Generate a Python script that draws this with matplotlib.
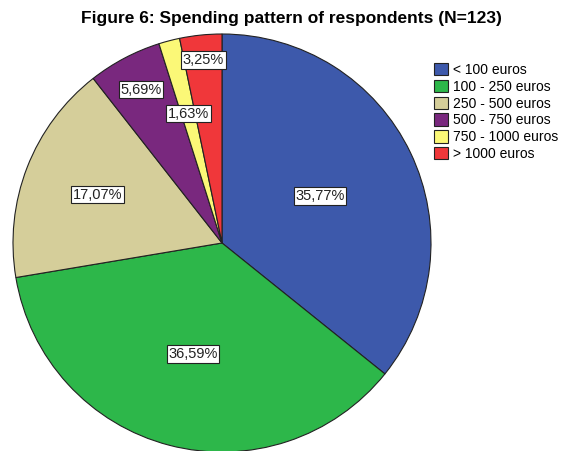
import numpy as np
import matplotlib.pyplot as plt

# respondents per spending band (N=123)
categories = ['< 100 euros', '100 - 250 euros', '250 - 500 euros',
              '500 - 750 euros', '750 - 1000 euros', '> 1000 euros']
counts = [44, 45, 21, 7, 2, 4]
colors = ['#3D59AB', '#2DB74A', '#D5CE9A', '#79287E', '#FBF877', '#F0373A']
label_dist = [0.52, 0.55, 0.64, 0.83, 0.64, 0.88]

plt.rcParams['font.family'] = ['Liberation Sans', 'DejaVu Sans']

fig = plt.figure(figsize=(5.76, 4.51), dpi=100)
ax = fig.add_axes([0, 0, 1, 1])

cx, cy, r = 222, 451 - 243, 209
total = sum(counts)
wedges, _ = ax.pie(counts, colors=colors, startangle=90, counterclock=False,
                   center=(cx, cy), radius=r, frame=True,
                   wedgeprops=dict(edgecolor='#222222', linewidth=0.8))
ax.set_xlim(0, 576)
ax.set_ylim(0, 451)
ax.axis('off')

for w, c, d in zip(wedges, counts, label_dist):
    ang = np.deg2rad((w.theta1 + w.theta2) / 2)
    x = cx + d * r * np.cos(ang)
    y = cy + d * r * np.sin(ang)
    txt = f'{100 * c / total:.2f}%'.replace('.', ',')
    ax.text(x, y, txt, ha='center', va='center', fontsize=10.5, color='#222222',
            bbox=dict(boxstyle='square,pad=0.12', fc='white', ec='#222222', lw=0.8))

ax.text(291, 451 - 19, 'Figure 6: Spending pattern of respondents (N=123)',
        ha='center', va='center', fontsize=12.5, fontweight='bold')

ax.legend(wedges, categories, loc='upper left',
          bbox_to_anchor=(434 / 576, 1 - 63 / 451),
          frameon=False, fontsize=10, handlelength=1.0, handleheight=1.0,
          handletextpad=0.35, labelspacing=0.2, borderaxespad=0, borderpad=0)

fig.savefig('out.png', dpi=100)
